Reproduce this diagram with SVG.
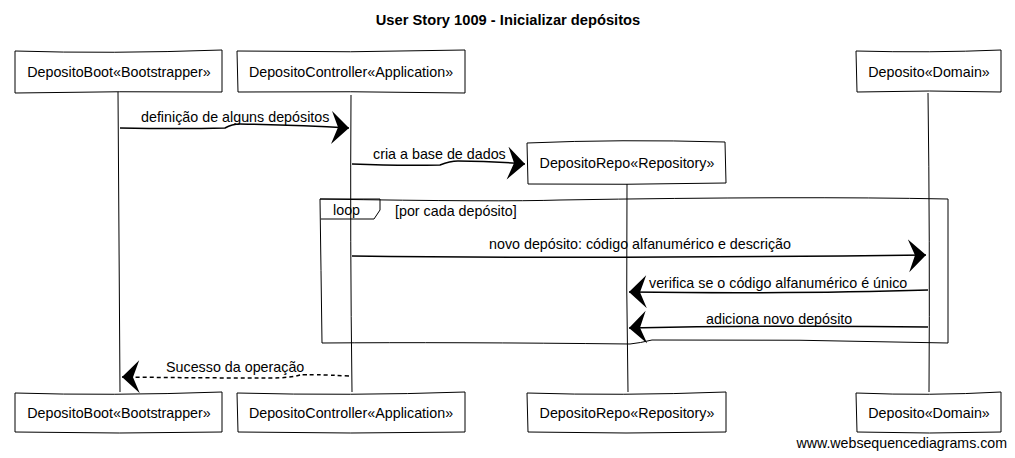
<svg xmlns="http://www.w3.org/2000/svg" width="1015" height="458" viewBox="0 0 1015 458">
<style>
  text { font-family: "Liberation Sans", Arial, sans-serif; font-size: 14.3px; fill: #000; }
  .title { font-size: 14.7px; font-weight: bold; }
  .box { fill: #fff; stroke: #000; stroke-width: 1; }
  .life { fill: none; stroke: #000; stroke-width: 1; }
  .msg { fill: none; stroke: #000; stroke-width: 1.5; marker-end: url(#arr); }
  .dash { stroke-dasharray: 4 3; }
  .frame { fill: none; stroke: #000; stroke-width: 1; }
  .wm { font-size: 14.2px; }
</style>
<defs>
  <marker id="arr" markerUnits="userSpaceOnUse" markerWidth="20" markerHeight="34" viewBox="0 0 20 34" refX="18" refY="16" orient="auto">
    <path d="M0,0 L18,16 L1,33 L7,16 Z" fill="#000"/>
  </marker>
</defs>
<rect width="1015" height="458" fill="#fff"/>
<text class="title" x="508" y="25" text-anchor="middle">User Story 1009 - Inicializar depósitos</text>

<g id="lifelines">
  <path class="life" d="M118,92 Q119,240 120,392"/>
  <path class="life" d="M351,95 Q350,240 352,392"/>
  <path class="life" d="M627,184 Q626,290 628,392"/>
  <path class="life" d="M928,93 Q930,240 929,392"/>
</g>

<g id="node-boot-top">
  <path class="box" d="M15,51 Q110,54 222,50 L222,92 Q120,91 15,93 Z"/>
  <text x="119" y="77" text-anchor="middle">DepositoBoot«Bootstrapper»</text>
</g>
<g id="node-controller-top">
  <path class="box" d="M237,51 Q350,53 465,50 L465,93 Q350,91 238,92 Z"/>
  <text x="351" y="77" text-anchor="middle">DepositoController«Application»</text>
</g>
<g id="node-domain-top">
  <path class="box" d="M856,51 Q930,53 1001,50 L1001,92 Q930,90 857,92 Z"/>
  <text x="929" y="77" text-anchor="middle">Deposito«Domain»</text>
</g>
<g id="node-repo">
  <path class="box" d="M527,143 Q620,139 725,142 L726,183 Q625,185 528,184 Z"/>
  <text x="627" y="168" text-anchor="middle">DepositoRepo«Repository»</text>
</g>

<g id="loop-frame">
  <path class="frame" d="M320,199 Q500,202 560,200 Q800,196 948,199 L948,343 Q800,339 652,340 Q640,343 630,344 Q450,342 322,343 Q321,270 320,199 Z"/>
  <path class="frame" d="M320,199 L380,199 L380,210 L374,219 L321,219"/>
  <text x="333" y="215">loop</text>
  <text x="395" y="216">[por cada depósito]</text>
</g>

<g id="connectors">
  <path class="msg" d="M120,128 Q180,129 225,128 Q232,124 240,124 Q300,125 349,128"/>
  <text x="141" y="122">definição de alguns depósitos</text>

  <path class="msg" d="M352,164 Q400,166 440,165 Q450,161 458,161 Q490,161 525,164"/>
  <text x="373" y="159">cria a base de dados</text>

  <path class="msg" d="M352,256 Q600,259 926,255"/>
  <text x="640" y="249" text-anchor="middle">novo depósito: código alfanumérico e descrição</text>

  <path class="msg" d="M928,290 Q800,294 629,292"/>
  <text x="649" y="288">verifica se o código alfanumérico é único</text>

  <path class="msg" d="M928,327 Q780,325 629,328"/>
  <text x="706" y="324">adiciona novo depósito</text>

  <path class="msg dash" d="M349,376 Q310,374 300,375 Q290,378 270,378 Q200,378 122,377"/>
  <text x="166" y="372">Sucesso da operação</text>
</g>

<g id="node-boot-bottom">
  <path class="box" d="M15,393 Q110,396 222,392 L222,432 Q120,434 15,432 Z"/>
  <text x="119" y="418" text-anchor="middle">DepositoBoot«Bootstrapper»</text>
</g>
<g id="node-controller-bottom">
  <path class="box" d="M237,393 Q350,396 465,392 L465,432 Q350,434 238,432 Z"/>
  <text x="351" y="418" text-anchor="middle">DepositoController«Application»</text>
</g>
<g id="node-repo-bottom">
  <path class="box" d="M527,393 Q620,396 726,392 L726,432 Q625,434 528,432 Z"/>
  <text x="627" y="418" text-anchor="middle">DepositoRepo«Repository»</text>
</g>
<g id="node-domain-bottom">
  <path class="box" d="M856,393 Q930,396 1001,392 L1001,432 Q930,434 857,432 Z"/>
  <text x="929" y="418" text-anchor="middle">Deposito«Domain»</text>
</g>

<text class="wm" x="1007" y="448" text-anchor="end">www.websequencediagrams.com</text>
</svg>
